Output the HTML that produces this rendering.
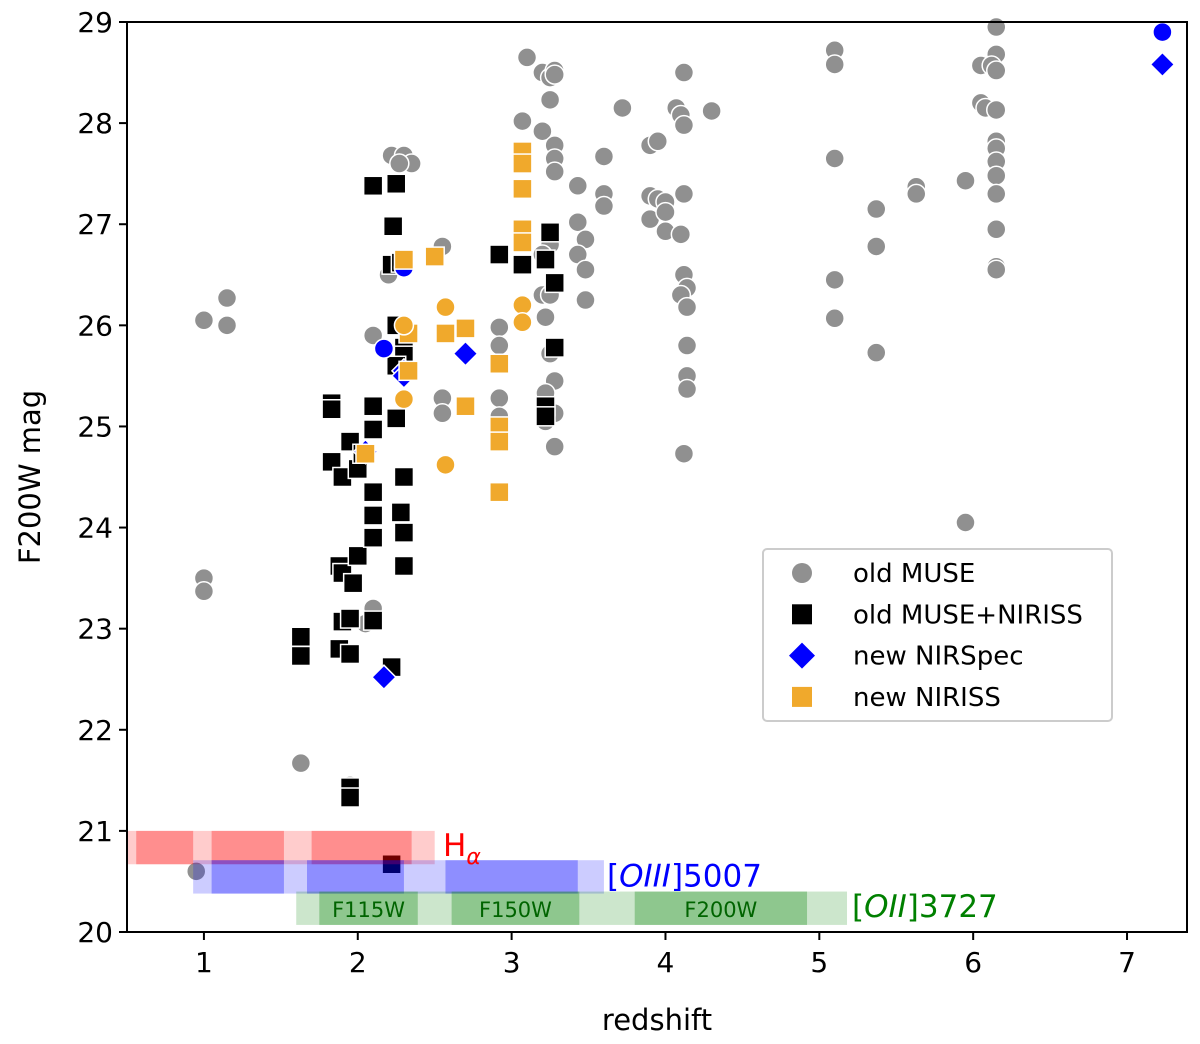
<!DOCTYPE html>
<html><head><meta charset="utf-8"><style>
body{margin:0;background:#fff}
svg text{font-family:"DejaVu Sans","Liberation Sans",sans-serif}
</style></head><body>
<svg id="c" width="1200" height="1039" xmlns="http://www.w3.org/2000/svg"></svg>
<script>
const xTicks=[1,2,3,4,5,6,7];
const yTicks=[20,21,22,23,24,25,26,27,28,29];
const oldMuse=[[1.0,26.05],[1.15,26.0],[1.15,26.27],[1.0,23.5],[1.0,23.37],[0.95,20.6],[1.63,21.67],[1.95,21.45],[1.95,21.35],[2.1,23.2],[2.05,23.05],[2.1,25.9],[2.22,27.68],[2.3,27.68],[2.35,27.6],[2.27,27.6],[2.2,26.5],[2.55,26.78],[2.55,25.28],[2.55,25.13],[2.92,25.98],[2.92,25.8],[2.92,25.28],[2.92,25.1],[3.07,28.02],[3.1,28.65],[3.2,28.5],[3.25,28.45],[3.28,28.52],[3.28,28.48],[3.25,28.23],[3.2,27.92],[3.28,27.78],[3.28,27.65],[3.28,27.52],[3.25,26.8],[3.2,26.7],[3.2,26.3],[3.25,26.3],[3.22,26.08],[3.25,25.72],[3.28,25.45],[3.22,25.33],[3.28,25.13],[3.22,25.05],[3.28,24.8],[3.43,27.38],[3.43,27.02],[3.48,26.85],[3.43,26.7],[3.48,26.55],[3.48,26.25],[3.6,27.67],[3.6,27.3],[3.6,27.18],[3.72,28.15],[3.9,27.78],[3.95,27.82],[3.9,27.28],[3.95,27.25],[4.0,27.22],[3.9,27.05],[4.0,27.12],[4.0,26.93],[4.1,26.9],[4.07,28.15],[4.1,28.08],[4.12,27.98],[4.12,28.5],[4.3,28.12],[4.12,27.3],[4.12,26.5],[4.14,26.37],[4.1,26.3],[4.14,26.18],[4.14,25.8],[4.14,25.5],[4.14,25.37],[4.12,24.73],[5.1,28.72],[5.1,28.58],[5.1,27.65],[5.1,26.45],[5.1,26.07],[5.37,27.15],[5.37,26.78],[5.37,25.73],[5.63,27.37],[5.63,27.3],[5.95,27.43],[5.95,24.05],[6.05,28.57],[6.05,28.2],[6.08,28.15],[6.15,28.95],[6.15,28.68],[6.12,28.57],[6.15,28.52],[6.15,28.13],[6.15,27.82],[6.15,27.75],[6.15,27.62],[6.15,27.48],[6.15,27.3],[6.15,26.95],[6.15,26.58],[6.15,26.55]];
const oldMuseNiriss=[[1.63,22.92],[1.63,22.73],[1.83,25.23],[1.83,25.17],[1.83,24.65],[1.9,24.5],[1.95,24.85],[2.0,24.58],[1.88,23.62],[1.9,23.55],[1.97,23.45],[2.0,23.72],[1.9,23.07],[1.95,23.1],[1.88,22.8],[1.95,22.75],[2.1,23.08],[1.95,21.43],[1.95,21.33],[2.1,27.38],[2.25,27.4],[2.23,26.98],[2.22,26.6],[2.28,26.62],[2.25,26.0],[2.1,25.2],[2.1,24.97],[2.1,24.35],[2.1,24.12],[2.1,23.9],[2.3,25.78],[2.3,25.7],[2.25,25.6],[2.25,25.08],[2.3,24.5],[2.28,24.15],[2.3,23.95],[2.3,23.62],[2.22,22.62],[2.22,20.67],[2.03,24.73],[2.92,26.7],[3.07,26.6],[3.22,26.65],[3.25,26.92],[3.28,26.42],[3.28,25.78],[3.22,25.2],[3.22,25.1]];
const nirspecDiamonds=[[2.17,22.52],[2.3,25.55],[2.3,25.5],[2.7,25.72],[7.23,28.58],[2.05,24.75]];
const nirspecCircles=[[2.17,25.77],[2.3,26.57],[7.23,28.9]];
const nirissSquares=[[2.3,26.65],[2.5,26.68],[2.33,25.92],[2.33,25.55],[2.05,24.73],[2.57,25.92],[2.7,25.97],[2.7,25.2],[2.92,25.62],[2.92,25.0],[2.92,24.85],[2.92,24.35],[3.07,27.72],[3.07,27.6],[3.07,27.35],[3.07,26.95],[3.07,26.82]];
const nirissCircles=[[2.3,26.0],[2.3,25.27],[2.57,26.18],[2.57,24.62],[3.07,26.2],[3.07,26.03]];
const bands=[
 {name:'h-alpha',y0:20.67,y1:21.0,color:'#ff0000',light:[0.5,2.5],dark:[[0.56,0.93],[1.05,1.52],[1.7,2.35]]},
 {name:'oiii',y0:20.38,y1:20.71,color:'#0000ff',light:[0.93,3.6],dark:[[1.05,1.52],[1.67,2.3],[2.57,3.43]]},
 {name:'oii',y0:20.07,y1:20.4,color:'#008000',light:[1.6,5.18],dark:[[1.75,2.39],[2.61,3.44],[3.8,4.92]]}];
const filters=['F115W','F150W','F200W'];

const L=127,R=1187,T=22,B=932;
const X=v=>L+(v-0.5)*153.85;
const Y=v=>B-(v-20)*(B-T)/9;
const s=document.getElementById('c');
const NS='http://www.w3.org/2000/svg';
function mk(t,a,p){const e=document.createElementNS(NS,t);for(const k in a)e.setAttribute(k,a[k]);(p||s).appendChild(e);return e;}

function circ(d,col,name){d.forEach(p=>{const e=mk('circle',{cx:X(p[0]),cy:Y(p[1]),r:9.5,fill:col,stroke:'#fff','stroke-width':1.5});});}
function sq(d,col,name){d.forEach(p=>{const e=mk('rect',{x:X(p[0])-9.5,y:Y(p[1])-9.5,width:19,height:19,fill:col,stroke:'#fff','stroke-width':1.5});});}
function dia(d,col,name){d.forEach(p=>{const x=X(p[0]),y=Y(p[1]);const e=mk('polygon',{points:`${x},${y-12} ${x+12},${y} ${x},${y+12} ${x-12},${y}`,fill:col,stroke:'#fff','stroke-width':1.5});});}
circ(oldMuse,'#909090','old-muse-point');
sq(oldMuseNiriss,'#000','old-muse-niriss-point');
circ(nirspecCircles,'#0000ff','new-nirspec-circle');
dia(nirspecDiamonds,'#0000ff','new-nirspec-diamond');
sq(nirissSquares,'#f0a92c','new-niriss-square');
circ(nirissCircles,'#f0a92c','new-niriss-circle');

// bands (drawn over points)
bands.forEach(b=>{
 let e=mk('rect',{x:X(b.light[0]),y:Y(b.y1),width:X(b.light[1])-X(b.light[0]),height:Y(b.y0)-Y(b.y1),fill:b.color,'fill-opacity':0.2});
 
 
 b.dark.forEach(d=>{
  let r=mk('rect',{x:X(d[0]),y:Y(b.y1),width:X(d[1])-X(d[0]),height:Y(b.y0)-Y(b.y1),fill:b.color,'fill-opacity':0.3});
  
  
 });
});
bands[2].dark.forEach((d,i)=>{
 let t=mk('text',{x:(X(d[0])+X(d[1]))/2,y:Y(20.15),'text-anchor':'middle','font-size':21,fill:'#006400'});
 t.textContent=filters[i];
 
 
});
function lbl(x,y,col,html,name){const t=mk('text',{x:x,y:y,'font-size':31,fill:col});t.innerHTML=html;}
lbl(443,Y(20.75),'#ff0000','H<tspan font-size="22" font-style="italic" dy="8">α</tspan>','h-alpha-label');
lbl(607,Y(20.45),'#0000ff','[<tspan font-style="italic">OIII</tspan>]5007','oiii-label');
lbl(852,Y(20.15),'#008000','[<tspan font-style="italic">OII</tspan>]3727','oii-label');

// axes
let f=mk('rect',{x:L,y:T,width:R-L,height:B-T,fill:'none',stroke:'#000','stroke-width':2});

xTicks.forEach(v=>{mk('line',{x1:X(v),x2:X(v),y1:B,y2:B+8,stroke:'#000','stroke-width':2});const t=mk('text',{x:X(v),y:B+40,'text-anchor':'middle','font-size':28});t.textContent=v;});
yTicks.forEach(v=>{mk('line',{x1:L-8,x2:L,y1:Y(v),y2:Y(v),stroke:'#000','stroke-width':2});const t=mk('text',{x:L-14,y:Y(v)+10,'text-anchor':'end','font-size':28});t.textContent=v;});
let xt=mk('text',{x:657,y:1030,'text-anchor':'middle','font-size':29});xt.textContent='redshift';
let yt=mk('text',{x:40,y:477,'text-anchor':'middle','font-size':29,transform:'rotate(-90 40 477)'});yt.textContent='F200W mag';

// legend
let lg=mk('g',{});
mk('rect',{x:763,y:549,width:349,height:172,rx:4,fill:'#fff','fill-opacity':0.8,stroke:'#ccc','stroke-width':2},lg);
const leg=[['old MUSE','c','#909090'],['old MUSE+NIRISS','s','#000'],['new NIRSpec','d','#0000ff'],['new NIRISS','s','#f0a92c']];
leg.forEach((e,i)=>{const y=573+i*41.3,x=802;
 if(e[1]=='c')mk('circle',{cx:x,cy:y,r:10,fill:e[2]},lg);
 else if(e[1]=='s')mk('rect',{x:x-10,y:y-10,width:20,height:20,fill:e[2]},lg);
 else mk('polygon',{points:`${x},${y-13} ${x+13},${y} ${x},${y+13} ${x-13},${y}`,fill:e[2]},lg);
 const t=mk('text',{x:853,y:y+9,'font-size':26},lg);t.textContent=e[0];});
</script>
</body></html>
